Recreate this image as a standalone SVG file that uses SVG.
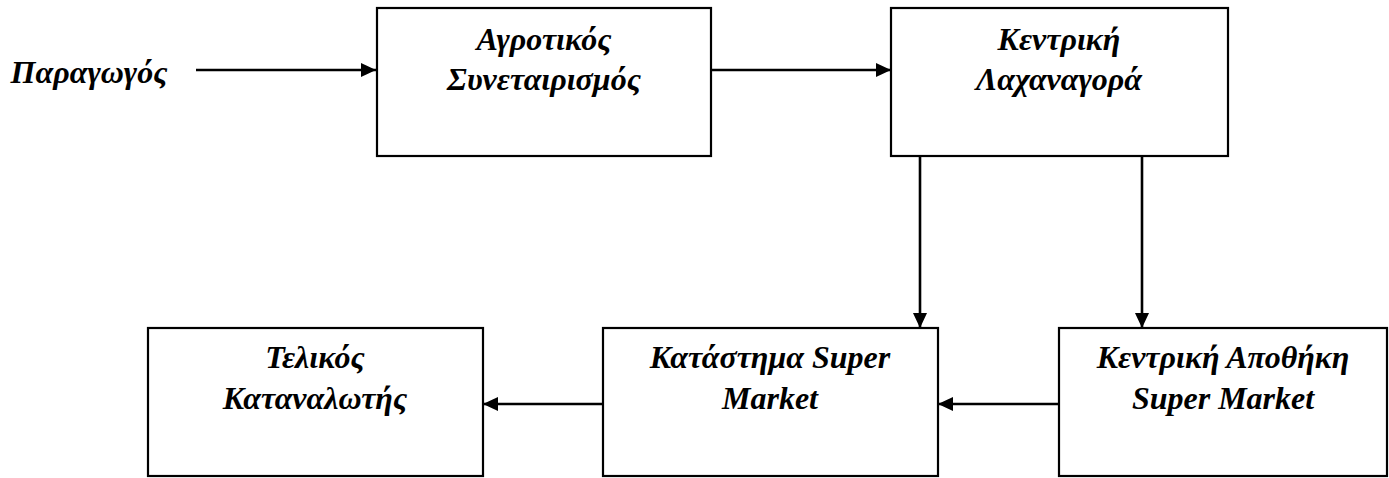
<svg xmlns="http://www.w3.org/2000/svg" width="1389" height="478" viewBox="0 0 1389 478">
<style>
.box{fill:#fff;stroke:#000;stroke-width:2.2}
.lbl{font-family:"Liberation Serif","Times New Roman",serif;font-weight:bold;font-style:italic;font-size:32px;fill:#000;text-anchor:middle}
.con{stroke:#000;stroke-width:2.6;fill:none;marker-end:url(#ah)}
</style>
<defs>
<marker id="ah" viewBox="0 0 15 14" refX="15" refY="7" markerWidth="15" markerHeight="14" markerUnits="userSpaceOnUse" orient="auto">
<path d="M0,0 L15,7 L0,14 Z" fill="#000"/>
</marker>
</defs>
<rect width="1389" height="478" fill="#fff"/>
<g id="connectors">
<line class="con" x1="196" y1="70" x2="376" y2="70"/>
<line class="con" x1="711" y1="70" x2="891" y2="70"/>
<line class="con" x1="920" y1="156" x2="920" y2="328"/>
<line class="con" x1="1142" y1="156" x2="1142" y2="328"/>
<line class="con" x1="1059" y1="404" x2="938" y2="404"/>
<line class="con" x1="603" y1="404" x2="483" y2="404"/>
</g>
<g id="paragogos">
<text class="lbl" x="89" y="83">Παραγωγός</text>
</g>
<g id="agrotikos">
<rect class="box" x="377" y="8" width="334" height="148"/>
<text class="lbl" x="544" y="50">Αγροτικός</text>
<text class="lbl" x="544" y="90">Συνεταιρισμός</text>
</g>
<g id="lachanagora">
<rect class="box" x="891" y="8" width="337" height="148"/>
<text class="lbl" x="1059" y="50">Κεντρική</text>
<text class="lbl" x="1059" y="90">Λαχαναγορά</text>
</g>
<g id="telikos">
<rect class="box" x="148" y="328" width="335" height="148"/>
<text class="lbl" x="315" y="368">Τελικός</text>
<text class="lbl" x="315" y="409">Καταναλωτής</text>
</g>
<g id="katastima">
<rect class="box" x="603" y="328" width="335" height="148"/>
<text class="lbl" x="770" y="368">Κατάστημα Super</text>
<text class="lbl" x="770" y="409">Market</text>
</g>
<g id="apothiki">
<rect class="box" x="1059" y="328" width="328" height="148"/>
<text class="lbl" x="1223" y="368">Κεντρική Αποθήκη</text>
<text class="lbl" x="1223" y="409">Super Market</text>
</g>
</svg>
